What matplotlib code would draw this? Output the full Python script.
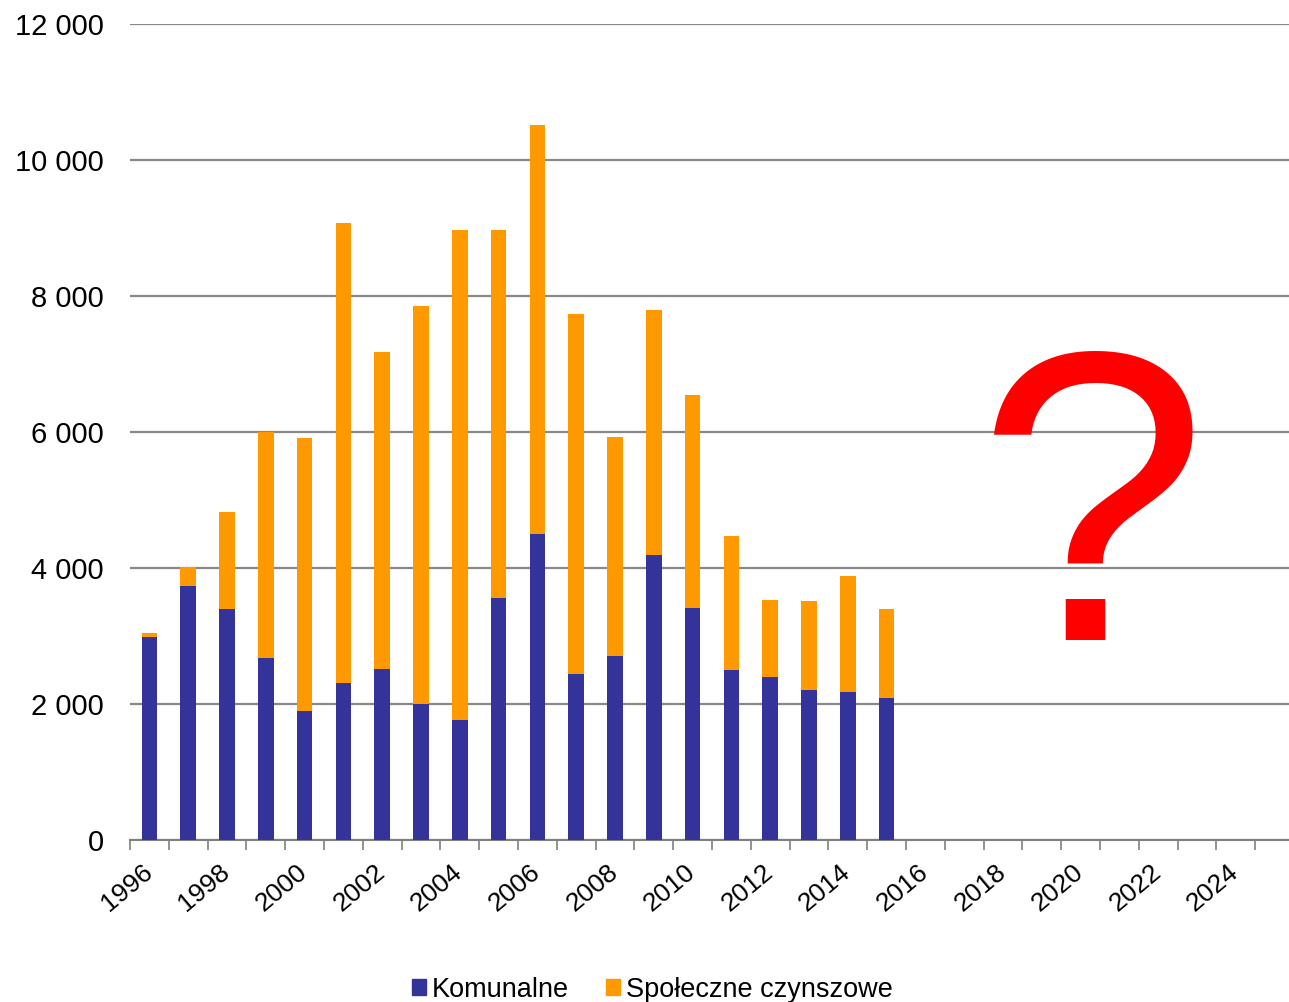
import numpy as np
import matplotlib.pyplot as plt
import matplotlib.transforms as mtransforms
from matplotlib.patches import Patch

plt.rcParams['font.family'] = ['Liberation Sans', 'DejaVu Sans']

years = list(range(1996, 2026))
data_years = list(range(1996, 2016))
komunalne = [2990, 3740, 3400, 2670, 1900, 2310, 2520, 1995, 1770, 3555,
             4500, 2445, 2710, 4195, 3410, 2495, 2390, 2210, 2170, 2095]
total = [3046, 4015, 4825, 6000, 5912, 9075, 7176, 7853, 8970, 8970,
         10515, 7735, 5926, 7795, 6545, 4475, 3530, 3520, 3882, 3397]
spoleczne = [t - k for t, k in zip(total, komunalne)]
yticks = [0, 2000, 4000, 6000, 8000, 10000, 12000]

blue = '#343399'
orange = '#FF9900'

fig = plt.figure(figsize=(12.89, 10.02), dpi=100)
ax = fig.add_axes([130 / 1289, 1 - 840 / 1002, 1164 / 1289, 816 / 1002])

x = np.arange(len(data_years))
ax.bar(x, komunalne, width=0.4, color=blue, zorder=3)
ax.bar(x, spoleczne, width=0.4, bottom=komunalne, color=orange, zorder=3)

ax.set_xlim(-0.5, len(years) - 0.5)
ax.set_ylim(0, 12000)
ax.set_yticks(yticks)
ax.set_yticklabels([f'{v:,}'.replace(',', ' ') for v in yticks], fontsize=21)
ax.tick_params(axis='y', length=0, pad=19)
ax.yaxis.grid(True, color='#888888', linewidth=1.6, zorder=0)

ax.set_xticks(np.arange(0, len(years), 2))
ax.set_xticklabels([str(y) for y in years[::2]], fontsize=19, rotation=40,
                   ha='right', va='top', rotation_mode='anchor')
ax.tick_params(axis='x', which='major', length=0, pad=14)
ax.set_xticks(np.arange(-0.5, len(years)), minor=True)
ax.tick_params(axis='x', which='minor', length=7, width=1.2, color='#808080')
shift = mtransforms.ScaledTranslation(-8 / 100, 0, fig.dpi_scale_trans)
for lbl in ax.get_xticklabels():
    lbl.set_transform(lbl.get_transform() + shift)

for s in ['left', 'right', 'top']:
    ax.spines[s].set_visible(False)
ax.spines['bottom'].set_color('#808080')
ax.spines['bottom'].set_linewidth(1.5)

# big question mark over the missing years
ax.text(24.28, 4515, '?', fontsize=299, color='#FF0000', ha='center', va='center',
        zorder=4)

handles = [Patch(color=blue, label='Komunalne'), Patch(color=orange, label='Społeczne czynszowe')]
fig.legend(handles=handles, loc='lower center', bbox_to_anchor=(0.506, -0.025), ncol=2,
           frameon=False, fontsize=19.5, handlelength=0.52, handleheight=0.52,
           handletextpad=0.2, columnspacing=1.4)

fig.savefig('out.png', dpi=100)
